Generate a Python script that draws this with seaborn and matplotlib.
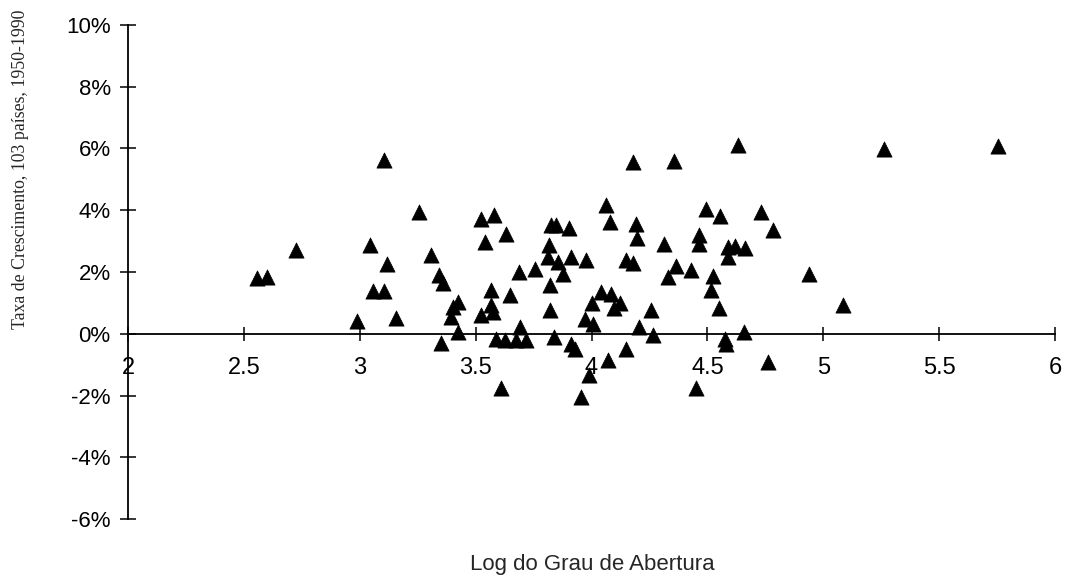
import matplotlib
matplotlib.use('Agg')
import matplotlib.pyplot as plt
import seaborn as sns
import pandas as pd
from matplotlib.ticker import FuncFormatter

# Log of openness (x) and growth rate in % (y)
log_abertura = [
    2.557, 2.598, 2.723, 3.103, 3.254, 3.043, 3.309, 3.118, 3.344, 3.360,
    3.057, 3.103, 2.986, 3.158, 3.352, 3.525, 3.578, 3.540, 3.631, 3.424,
    3.402, 3.395, 3.424, 3.567, 3.647, 3.567, 3.574, 3.524, 3.690, 3.586,
    3.625, 3.675, 3.716, 3.608, 3.687, 3.754, 4.181, 4.063, 4.081, 4.193,
    4.195, 3.826, 3.847, 3.902, 3.816, 3.812, 3.855, 3.912, 3.977, 3.876,
    3.819, 4.149, 4.181, 3.819, 4.042, 4.085, 4.003, 4.121, 4.099, 3.970,
    4.005, 4.257, 4.204, 4.264, 3.840, 3.912, 3.927, 4.147, 4.070, 3.988,
    3.955, 4.314, 4.328, 4.630, 4.358, 4.494, 4.554, 4.731, 4.782, 4.466,
    4.466, 4.588, 4.621, 4.664, 4.588, 4.365, 4.429, 4.523, 4.516, 4.552,
    4.659, 4.578, 4.580, 4.760, 4.453, 5.263, 5.754, 4.940, 5.086,
]
taxa_crescimento = [
    1.79, 1.84, 2.70, 5.64, 3.94, 2.86, 2.54, 2.27, 1.89, 1.64,
    1.39, 1.39, 0.41, 0.52, -0.30, 3.73, 3.83, 2.97, 3.24, 1.03,
    0.87, 0.54, 0.06, 1.41, 1.25, 0.92, 0.71, 0.60, 0.22, -0.16,
    -0.21, -0.21, -0.21, -1.77, 2.00, 2.11, 5.56, 4.16, 3.62, 3.57,
    3.11, 3.51, 3.51, 3.44, 2.86, 2.47, 2.32, 2.49, 2.40, 1.95,
    1.57, 2.38, 2.29, 0.76, 1.35, 1.30, 0.98, 0.98, 0.82, 0.49,
    0.33, 0.76, 0.22, -0.05, -0.10, -0.32, -0.51, -0.51, -0.86, -1.34,
    -2.05, 2.92, 1.84, 6.10, 5.61, 4.05, 3.80, 3.94, 3.37, 3.19,
    2.92, 2.81, 2.83, 2.79, 2.49, 2.18, 2.05, 1.86, 1.41, 0.82,
    0.06, -0.16, -0.34, -0.91, -1.77, 5.99, 6.08, 1.95, 0.92,
]

x_ticks = [2, 2.5, 3, 3.5, 4, 4.5, 5, 5.5, 6]
y_ticks = [-6, -4, -2, 0, 2, 4, 6, 8, 10]

df = pd.DataFrame({'x': log_abertura, 'y': taxa_crescimento})

sns.set_style('white')
plt.rcParams['font.family'] = ['Liberation Sans', 'DejaVu Sans']
plt.rcParams['axes.unicode_minus'] = False

fig = plt.figure(figsize=(10.68, 5.77), dpi=100)
ax = fig.add_axes([0.1199, 0.1005, 0.8679, 0.8562])

sns.scatterplot(data=df, x='x', y='y', marker='^', color='black',
                edgecolor='black', s=120, linewidth=0.5, ax=ax, zorder=3)

ax.set_xlim(2, 6)
ax.set_ylim(-6, 10)
ax.set_xticks(x_ticks)
ax.set_yticks(y_ticks)
ax.xaxis.set_major_formatter(FuncFormatter(lambda v, p: f'{v:g}'))
ax.yaxis.set_major_formatter(FuncFormatter(lambda v, p: f'{v:.0f}%'))

for side in ['top', 'right']:
    ax.spines[side].set_visible(False)
ax.spines['bottom'].set_position(('data', 0))
for side in ['left', 'bottom']:
    ax.spines[side].set_color('black')
    ax.spines[side].set_linewidth(1.3)

# seaborn's white style switches the tick marks off, turn them back on
ax.tick_params(bottom=True, left=True)
ax.tick_params(axis='x', direction='inout', length=10, width=1.1,
               colors='black', labelsize=17, pad=12)
ax.tick_params(axis='y', direction='inout', length=11, width=1.1,
               colors='black', labelsize=16, pad=7)
ax.set_xlabel('')
ax.set_ylabel('')

fig.text(0.555, 0.021, 'Log do Grau de Abertura', ha='center', va='center',
         fontsize=16)
fig.text(0.019, 0.707, 'Taxa de Crescimento, 103 países, 1950-1990',
         rotation=90, ha='center', va='center', fontsize=12.8,
         family=['Liberation Serif', 'DejaVu Serif'])

fig.savefig('out.png', dpi=100)
